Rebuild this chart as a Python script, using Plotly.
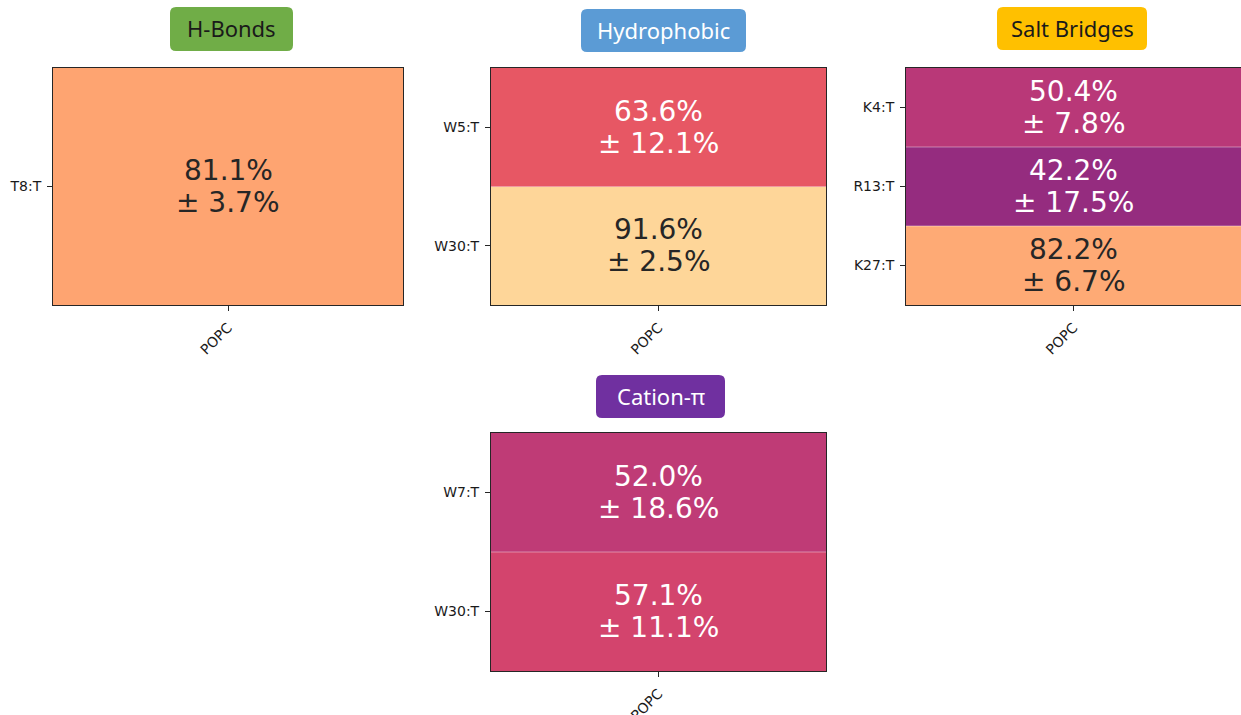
import plotly.graph_objects as go

W, H = 1241, 715

# ---------------- data ----------------
membrane = ["POPC"]

hb_labels = ["T8:T"]
hb_mean = [81.1]
hb_sd = [3.7]

hp_labels = ["W5:T", "W30:T"]
hp_mean = [63.6, 91.6]
hp_sd = [12.1, 2.5]

sb_labels = ["K4:T", "R13:T", "K27:T"]
sb_mean = [50.4, 42.2, 82.2]
sb_sd = [7.8, 17.5, 6.7]

cp_labels = ["W7:T", "W30:T"]
cp_mean = [52.0, 57.1]
cp_sd = [18.6, 11.1]

titles = ["H-Bonds", "Hydrophobic", "Salt Bridges", "Cation-π"]

# --------------- styling ---------------
MAGMA = [
    [0.0, "#000004"], [0.1, "#140e36"], [0.2, "#3b0f70"], [0.3, "#641a80"],
    [0.4, "#8c2981"], [0.5, "#b73779"], [0.6, "#de4968"], [0.7, "#f7705c"],
    [0.8, "#fe9f6d"], [0.9, "#fecf92"], [1.0, "#fcfdbf"],
]
DARK = "#262626"
CELL_FONT = "DejaVu Sans"
TITLE_FONT = "Noto Sans"


def px_x(p):
    return p / W


def px_y(p):
    return 1 - p / H


panels = [
    dict(labels=hb_labels, mean=hb_mean, sd=hb_sd, title=titles[0],
         box_color="#70ad47", title_color="#1a1a1a",
         ax=(53, 403, 68, 305), tb=(170, 293, 7, 51)),
    dict(labels=hp_labels, mean=hp_mean, sd=hp_sd, title=titles[1],
         box_color="#5b9bd5", title_color="#ffffff",
         ax=(491, 826, 68, 305), tb=(581, 746, 9, 52)),
    dict(labels=sb_labels, mean=sb_mean, sd=sb_sd, title=titles[2],
         box_color="#ffc000", title_color="#1a1a1a",
         ax=(906, W, 68, 305), tb=(997, 1147, 7, 50)),
    dict(labels=cp_labels, mean=cp_mean, sd=cp_sd, title=titles[3],
         box_color="#7030a0", title_color="#ffffff",
         ax=(491, 826, 433, 671), tb=(596, 725, 375, 418)),
]


def rounded_rect(x0, x1, y0, y1, r=6):
    # pixel -> paper, quadratic-corner path
    rx, ry = r / W, r / H
    X0, X1 = px_x(x0), px_x(x1)
    Y0, Y1 = px_y(y1), px_y(y0)  # bottom, top in paper
    return (f"M {X0+rx},{Y0} L {X1-rx},{Y0} Q {X1},{Y0} {X1},{Y0+ry} "
            f"L {X1},{Y1-ry} Q {X1},{Y1} {X1-rx},{Y1} L {X0+rx},{Y1} "
            f"Q {X0},{Y1} {X0},{Y1-ry} L {X0},{Y0+ry} Q {X0},{Y0} {X0+rx},{Y0} Z")


fig = go.Figure()
annotations = []
shapes = []
layout_axes = {}

for i, p in enumerate(panels):
    n = i + 1
    sfx = "" if n == 1 else str(n)
    xa, ya = f"x{sfx}", f"y{sfx}"

    fig.add_trace(go.Heatmap(
        z=[[v] for v in p["mean"]], x=membrane, y=p["labels"],
        xaxis=xa, yaxis=ya, colorscale=MAGMA, zmin=0, zmax=100,
        showscale=False, hoverinfo="skip",
    ))

    x0, x1, y0, y1 = p["ax"]
    axis_common = dict(
        showline=True, mirror=True, linecolor=DARK, linewidth=1,
        ticks="outside", ticklen=5, tickwidth=1, tickcolor=DARK,
        ticklabelstandoff=3,
        showgrid=False, zeroline=False, fixedrange=True, automargin=False,
        tickfont=dict(family=CELL_FONT, size=14, color="#1a1a1a"),
    )
    layout_axes[f"xaxis{sfx}"] = dict(
        domain=[px_x(x0), min(px_x(x1), 1.0)], anchor=ya, tickangle=-45,
        **axis_common)
    layout_axes[f"yaxis{sfx}"] = dict(
        domain=[px_y(y1), px_y(y0)], anchor=xa, autorange="reversed",
        **axis_common)

    # cell labels
    for lab, m, s in zip(p["labels"], p["mean"], p["sd"]):
        col = DARK if m >= 75 else "#ffffff"
        for txt, shift in ((f"{m:.1f}%", 16), (f"± {s:.1f}%", -16)):
            annotations.append(dict(
                x=membrane[0], y=lab, xref=xa, yref=ya, text=txt,
                showarrow=False, yshift=shift,
                font=dict(family=CELL_FONT, size=28, color=col)))

    # separators between rows
    for k in range(len(p["labels"]) - 1):
        shapes.append(dict(
            type="line", xref=f"{xa} domain", yref=ya, x0=0, x1=1,
            y0=k + 0.5, y1=k + 0.5,
            line=dict(color="rgba(255,255,255,0.4)", width=1)))

    # title box
    tx0, tx1, ty0, ty1 = p["tb"]
    shapes.append(dict(type="path", xref="paper", yref="paper",
                       path=rounded_rect(tx0, tx1, ty0, ty1),
                       fillcolor=p["box_color"], line=dict(width=0),
                       layer="above"))
    annotations.append(dict(
        x=px_x((tx0 + tx1) / 2), y=px_y((ty0 + ty1) / 2 - 0.5),
        xref="paper", yref="paper", text=p["title"], showarrow=False,
        xanchor="center", yanchor="middle",
        font=dict(family=TITLE_FONT, size=22, color=p["title_color"])))

fig.update_layout(
    width=W, height=H, autosize=False,
    margin=dict(l=0, r=0, t=0, b=0, pad=0),
    paper_bgcolor="white", plot_bgcolor="white",
    showlegend=False,
    annotations=annotations, shapes=shapes,
    **layout_axes,
)

fig.write_html(
    "out.html",
    config={"displayModeBar": False},
    post_script="document.body.style.margin='0';document.body.style.overflow='hidden';",
)
